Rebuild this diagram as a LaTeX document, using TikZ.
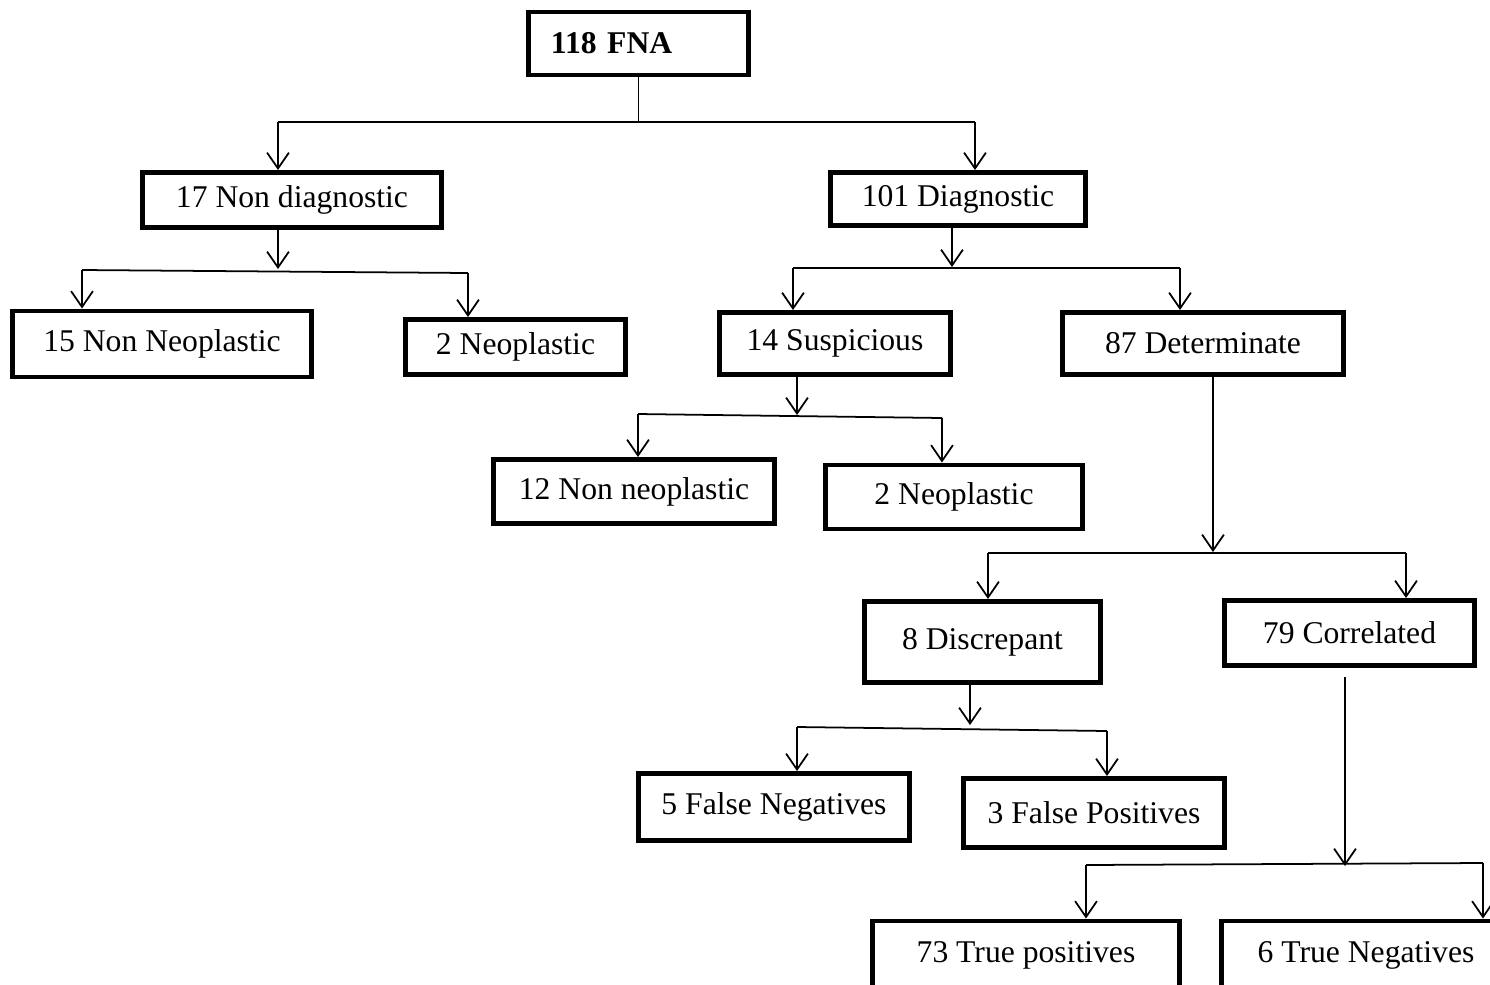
\documentclass[tikz,border=0pt]{standalone}
\usepackage{fontspec}
\setmainfont{Liberation Serif}
\usetikzlibrary{arrows.meta,calc}

\tikzset{
  box/.style={draw, line width=1.4pt, inner sep=0pt, align=center},
  arr/.style={-{Straight Barb[length=4.5pt,width=6.2pt]}, line width=0.5pt},
  bar/.style={line width=0.5pt}
}

\begin{document}
\begin{tikzpicture}[x=0.01cm, y=-0.01cm, font=\fontsize{9}{11}\selectfont]
    % Page frame
    \useasboundingbox (0,0) rectangle (1490,984);
    \clip (0,0) rectangle (1490,984);

    % Boxes
    \node[box, minimum width=2.19cm, minimum height=0.63cm, text width=1.75cm, align=left] (fna) at (638.5,43.5) {\bfseries 118 FNA};
    \node[box, minimum width=2.98cm, minimum height=0.55cm] (nondiag) at (292,200) {17 Non diagnostic};
    \node[box, minimum width=2.54cm, minimum height=0.53cm] (diag) at (958,199) {101 Diagnostic};
    \node[box, minimum width=2.98cm, minimum height=0.66cm] (nonneoL) at (162,344) {15 Non Neoplastic};
    \node[box, minimum width=2.19cm, minimum height=0.55cm] (neoL) at (515.5,347) {2 Neoplastic};
    \node[box, minimum width=2.30cm, minimum height=0.62cm] (susp) at (835,343.5) {14 Suspicious};
    \node[box, minimum width=2.80cm, minimum height=0.62cm] (determ) at (1203,343.5) {87 Determinate};
    \node[box, minimum width=2.80cm, minimum height=0.64cm] (nonneoM) at (634,491.5) {12 Non neoplastic};
    \node[box, minimum width=2.56cm, minimum height=0.64cm] (neoM) at (954,497) {2 Neoplastic};
    \node[box, minimum width=2.35cm, minimum height=0.81cm] (discr) at (982.5,642) {8 Discrepant};
    \node[box, minimum width=2.49cm, minimum height=0.65cm] (corr) at (1349.5,633) {79 Correlated};
    \node[box, minimum width=2.70cm, minimum height=0.67cm] (falseneg) at (774,807) {5 False Negatives};
    \node[box, minimum width=2.60cm, minimum height=0.69cm] (falsepos) at (1094,813) {3 False Positives};
    \node[box, minimum width=3.06cm, minimum height=0.68cm] (truepos) at (1026,955) {73 True positives};
    \node[box, minimum width=2.88cm, minimum height=0.68cm] (trueneg) at (1366,955) {6 True Negatives};

    % Branch points
    \coordinate (fnaL) at (278,122);
    \coordinate (fnaR) at (975,122);
    \coordinate (ndM) at (278,269);
    \coordinate (ndL) at (82,270);
    \coordinate (ndR) at (468,273);
    \coordinate (dgM) at (952,267);
    \coordinate (dgL) at (793,268);
    \coordinate (dgR) at (1180,268);
    \coordinate (spM) at (797,415);
    \coordinate (spL) at (638,414);
    \coordinate (spR) at (942,418);
    \coordinate (dtM) at (1213,552);
    \coordinate (dtL) at (988,553);
    \coordinate (dtR) at (1406,553);
    \coordinate (dsM) at (970,725);
    \coordinate (dsL) at (797,727);
    \coordinate (dsR) at (1107,731);
    \coordinate (crM) at (1345,866);
    \coordinate (crL) at (1086,865);
    \coordinate (crR) at (1483,863);

    % FNA
    \draw[bar] (fna.south) -- (fna.south |- fnaL);
    \draw[bar] (fnaL) -- (fnaR);
    \draw[arr] (fnaL) -- (fnaL |- nondiag.north);
    \draw[arr] (fnaR) -- (fnaR |- diag.north);

    % Non diagnostic
    \draw[arr] (nondiag.south -| ndM) -- (ndM);
    \draw[bar] (ndL) -- (ndR);
    \draw[arr] (ndL) -- (ndL |- nonneoL.north);
    \draw[arr] (ndR) -- (ndR |- neoL.north);

    % Diagnostic
    \draw[arr] (diag.south -| dgM) -- (dgM);
    \draw[bar] (dgL) -- (dgR);
    \draw[arr] (dgL) -- (dgL |- susp.north);
    \draw[arr] (dgR) -- (dgR |- determ.north);

    % Suspicious
    \draw[arr] (susp.south -| spM) -- (spM);
    \draw[bar] (spL) -- (spR);
    \draw[arr] (spL) -- (spL |- nonneoM.north);
    \draw[arr] (spR) -- (spR |- neoM.north);

    % Determinate
    \draw[arr] (determ.south -| dtM) -- (dtM);
    \draw[bar] (dtL) -- (dtR);
    \draw[arr] (dtL) -- (dtL |- discr.north);
    \draw[arr] (dtR) -- (dtR |- corr.north);

    % Discrepant
    \draw[arr] (discr.south -| dsM) -- (dsM);
    \draw[bar] (dsL) -- (dsR);
    \draw[arr] (dsL) -- (dsL |- falseneg.north);
    \draw[arr] (dsR) -- (dsR |- falsepos.north);

    % Correlated
    \draw[arr] ($(corr.south -| crM)+(0,9)$) -- (crM);
    \draw[bar] (crL) -- (crR);
    \draw[arr] (crL) -- (crL |- truepos.north);
    \draw[arr] (crR) -- (crR |- trueneg.north);
\end{tikzpicture}
\end{document}
